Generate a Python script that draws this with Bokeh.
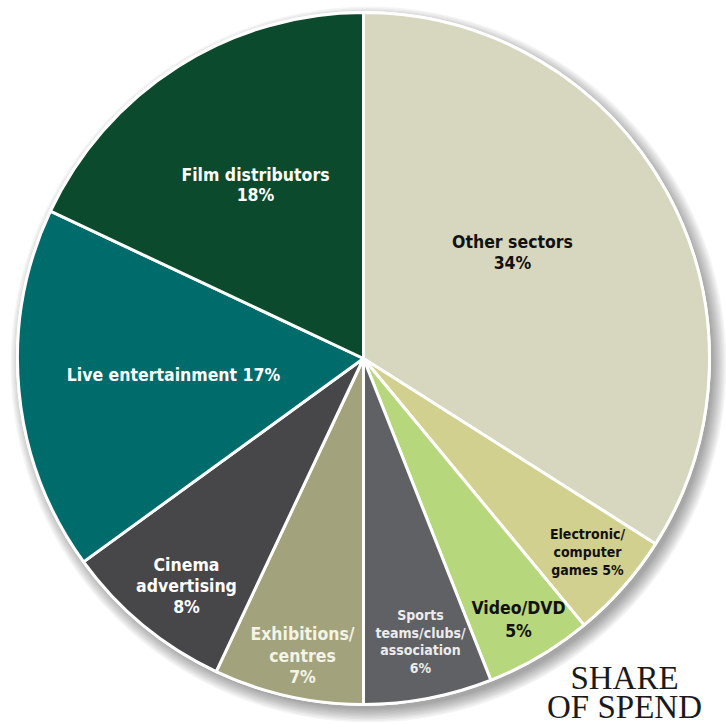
import math
from bokeh.plotting import figure
from bokeh.models import Range1d
from bokeh.core.properties import value
from bokeh.embed import file_html
from bokeh.resources import INLINE

# ---- data ----
categories = ["Other sectors", "Electronic/computer games", "Video/DVD",
              "Sports teams/clubs/association", "Exhibitions/centres",
              "Cinema advertising", "Live entertainment", "Film distributors"]
shares = [34, 5, 5, 6, 7, 8, 17, 18]
colors = ["#d7d7bf", "#d2d08e", "#b7d77c", "#606165", "#a2a27c",
          "#474648", "#006b6b", "#0b4a2c"]
label_templates = [["Other sectors", "{v}%"],
                   ["Electronic/", "computer", "games {v}%"],
                   ["Video/DVD", "{v}%"],
                   ["Sports", "teams/clubs/", "association", "{v}%"],
                   ["Exhibitions/", "centres", "{v}%"],
                   ["Cinema", "advertising", "{v}%"],
                   ["Live entertainment {v}%"],
                   ["Film distributors", "{v}%"]]
title_lines = ["SHARE", "OF SPEND"]

# ---- layout / style (image pixel coords, y downward) ----
W, H = 726, 724
CX, CY, R = 363, 358, 346
label_pos = [(512, 252), (587, 551), (518, 619), (420, 641),
             (302, 655), (186, 585), (173, 374), (255, 184)]
label_size = [17.5, 14, 17.5, 14, 17.5, 17.5, 17.5, 17.5]
label_lh = [21, 18, 23, 17.5, 21.5, 21, 20, 20]
label_color = ["#111111", "#111111", "#111111", "#ececec", "#f4f4e6",
               "#ffffff", "#ffffff", "#ffffff"]
FONT = "DejaVu Sans Condensed"

p = figure(width=W, height=H, output_backend="svg", toolbar_location=None,
           x_range=Range1d(0, W), y_range=Range1d(0, H), min_border=0)
p.axis.visible = False
p.grid.visible = False
p.outline_line_color = None
p.background_fill_color = "white"
p.border_fill_color = "white"

# drop shadow
for i in range(10):
    p.circle(x=CX + 5, y=H - (CY + 6), radius=R + 12 - i * 1.5,
             fill_color="black", fill_alpha=0.04, line_color=None)
p.circle(x=CX, y=H - CY, radius=R + 1.5, fill_color="white", line_color=None)

total = sum(shares)
starts, ends = [], []
cum = 0
for v in shares:
    starts.append(math.pi / 2 - 2 * math.pi * cum / total)
    cum += v
    ends.append(math.pi / 2 - 2 * math.pi * cum / total)

p.wedge(x=CX, y=H - CY, radius=R, start_angle=starts, end_angle=ends,
        direction="clock", fill_color=colors, line_color="white", line_width=3)

for i, v in enumerate(shares):
    lines = [t.format(v=v) for t in label_templates[i]]
    n = len(lines)
    x0, y0 = label_pos[i]
    lh = label_lh[i]
    ys = [H - (y0 + (k - (n - 1) / 2) * lh) for k in range(n)]
    p.text(x=[x0] * n, y=ys, text=lines, text_align="center",
           text_baseline="middle", text_font=value(FONT),
           text_font_style="bold", text_font_size=f"{label_size[i]}px",
           text_color=label_color[i])

p.text(x=[624, 624], y=[H - 677, H - 706], text=title_lines,
       text_align="center", text_baseline="middle",
       text_font=value("Liberation Serif"), text_font_size="33px",
       text_color="#1a1a1a")

open("out.html", "w").write(file_html(p, INLINE))
